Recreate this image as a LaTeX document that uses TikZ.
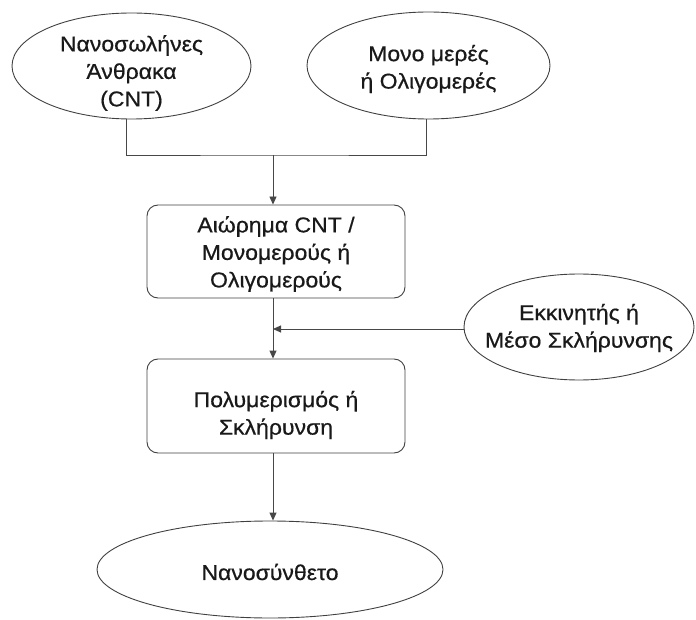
\documentclass[tikz,border=0pt]{standalone}
\usepackage{fontspec}
\setmainfont[FakeStretch=1.07,FakeBold=0.6]{Liberation Sans}
\usetikzlibrary{shapes.geometric,arrows.meta}
\begin{document}
\begin{tikzpicture}[x=1pt,y=-1pt,
  every node/.style={inner sep=0pt},
  txt/.style={font=\fontsize{21.5}{27.5}\selectfont, align=center, text=black!90},
  oval/.style={ellipse, draw=black!75, line width=0.9pt},
  stepbox/.style={rectangle, rounded corners=11pt, draw=black!75, line width=0.9pt,
                  minimum width=258pt},
  link/.style={draw=black!72, line width=0.9pt},
  flow/.style={link, -{Triangle[length=8pt,width=7pt]}}
]
\useasboundingbox (0,0) rectangle (696,620);

% inputs
\node[oval, minimum width=239pt, minimum height=106pt] (cnt) at (131.5,66) {};
\node[txt] (cnttxt) at (131.5,73) {Νανοσωλήνες\\Άνθρακα\\(CNT)};
\node[oval, minimum width=243pt, minimum height=107pt] (mono) at (428.5,65.5) {};
\node[txt] (monotxt) at (428.5,69) {Μονο μερές\\ή Ολιγομερές};

% process steps
\node[stepbox, minimum height=93pt] (susp) at (276,251.5) {};
\node[txt] (susptxt) at (276,254) {Αιώρημα CNT /\\Μονομερούς ή\\Ολιγομερούς};
\node[stepbox, minimum height=94pt] (poly) at (276,406) {};
\node[txt] (polytxt) at (276,415) {Πολυμερισμός ή\\Σκλήρυνση};

% additive and product
\node[oval, minimum width=230pt, minimum height=106pt] (init) at (579,327) {};
\node[txt] (inittxt) at (579,328) {Εκκινητής ή\\Μέσο Σκλήρυνσης};
\node[oval, minimum width=346pt, minimum height=97pt] (nano) at (270,569.5) {};
\node[txt] (nanotxt) at (270,572) {Νανοσύνθετο};

% junction points
\coordinate (join) at (273,155);
\coordinate (feed) at (273,329);

\draw[link] (cnt.south -| 126,0) |- (join) -| (mono.south -| 426,0);
\draw[flow] (join) -- (join |- susp.north);
\draw[flow] (susp.south -| join) -- (poly.north -| join);
\draw[flow] (init.west |- feed) -- (feed);
\draw[flow] (poly.south -| join) -- (nano.north -| join);
\end{tikzpicture}
\end{document}
